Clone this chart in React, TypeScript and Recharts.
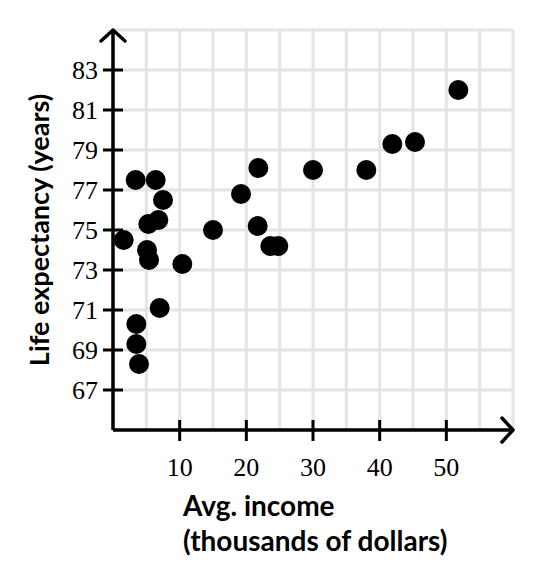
import React from 'react';
import { ScatterChart, Scatter, XAxis, YAxis, CartesianGrid, Label } from 'recharts';

// avg. income (thousands of dollars) and life expectancy (years)
const incomeK = [1.6, 3.4, 3.5, 3.5, 3.9, 5.1, 5.3, 5.4, 6.4, 6.8, 7.0, 7.5, 10.4, 15, 19.2, 21.7, 21.8, 23.6, 24.8, 30, 38, 41.9, 45.3, 51.8];
const lifeExp = [74.5, 77.5, 70.3, 69.3, 68.3, 74.0, 75.3, 73.5, 77.5, 75.5, 71.1, 76.5, 73.3, 75, 76.8, 75.2, 78.1, 74.2, 74.2, 78, 78, 79.3, 79.4, 82];

const xGridTicks = [0, 5, 10, 15, 20, 25, 30, 35, 40, 45, 50, 55, 60];
const xLabelTicks = [10, 20, 30, 40, 50];
const yGridTicks = [65, 67, 69, 71, 73, 75, 77, 79, 81, 83, 85];
const yLabelTicks = [67, 69, 71, 73, 75, 77, 79, 81, 83];

const data = incomeK.map((x, i) => ({ x, y: lifeExp[i] }));

const tickFont = '"Liberation Serif", serif';
const labelFont = 'Lato, sans-serif';

const XTick = (props: any) => {
  const { x, y, payload } = props;
  if (!xLabelTicks.includes(payload.value)) return <g />;
  return (
    <g>
      <line x1={x} x2={x} y1={y - 10} y2={y + 11} stroke="#000" strokeWidth={3} />
      <text x={x} y={y + 37} textAnchor="middle" dominantBaseline="central" fontFamily={tickFont} fontSize={26} fill="#000">
        {payload.value}
      </text>
    </g>
  );
};

const YTick = (props: any) => {
  const { x, y, payload } = props;
  if (!yLabelTicks.includes(payload.value)) return <g />;
  return (
    <g>
      <line x1={x - 10} x2={x + 10} y1={y} y2={y} stroke="#000" strokeWidth={3} />
      <text x={x - 15} y={y} textAnchor="end" dominantBaseline="central" fontFamily={tickFont} fontSize={26} fill="#000">
        {payload.value}
      </text>
    </g>
  );
};

const Dot = (props: any) => <circle cx={props.cx} cy={props.cy} r={10} fill="#000" />;

export default function App() {
  return (
    <div style={{ position: 'absolute', left: 0, top: 0, width: 558, height: 565, background: '#fff' }}>
      <svg width={0} height={0} style={{ position: 'absolute' }}>
        <defs>
          <marker id="chev" markerUnits="userSpaceOnUse" markerWidth={30} markerHeight={30} refX={15} refY={15} orient="auto-start-reverse" overflow="visible">
            <path d="M4,3 L15,15 L4,27" fill="none" stroke="#000" strokeWidth={3.5} strokeLinecap="round" strokeLinejoin="round" />
          </marker>
        </defs>
      </svg>
      <ScatterChart width={558} height={565} margin={{ top: 30, right: 45, bottom: 95, left: 13 }}>
        <CartesianGrid stroke="#e4e4e4" strokeWidth={3} />
        <XAxis
          type="number"
          dataKey="x"
          domain={[0, 60]}
          ticks={xGridTicks}
          interval={0}
          height={40}
          tickSize={0}
          tickMargin={0}
          tickLine={false}
          tick={<XTick />}
          axisLine={{ stroke: '#000', strokeWidth: 3.5, markerEnd: 'url(#chev)' }}
        >
          <Label
            content={() => (
              <g>
                <text x={183} y={505} dominantBaseline="central" fontFamily={labelFont} fontWeight={700} fontSize={28} fill="#000">
                  Avg. income
                </text>
                <text x={183} y={540} dominantBaseline="central" fontFamily={labelFont} fontWeight={700} fontSize={28} fill="#000">
                  (thousands of dollars)
                </text>
              </g>
            )}
          />
        </XAxis>
        <YAxis
          type="number"
          dataKey="y"
          domain={[65, 85]}
          ticks={yGridTicks}
          interval={0}
          width={100}
          tickSize={0}
          tickMargin={0}
          tickLine={false}
          tick={<YTick />}
          axisLine={{ stroke: '#000', strokeWidth: 3.5, markerStart: 'url(#chev)' }}
        >
          <Label
            content={(p: any) => {
              const vb = p.viewBox || { y: 30, height: 400 };
              const cy = vb.y + vb.height / 2;
              return (
                <text x={38} y={cy} transform={`rotate(-90, 38, ${cy})`} textAnchor="middle" dominantBaseline="central" fontFamily={labelFont} fontWeight={700} fontSize={27} fill="#000">
                  Life expectancy (years)
                </text>
              );
            }}
          />
        </YAxis>
        <Scatter data={data} shape={<Dot />} isAnimationActive={false} />
      </ScatterChart>
    </div>
  );
}
